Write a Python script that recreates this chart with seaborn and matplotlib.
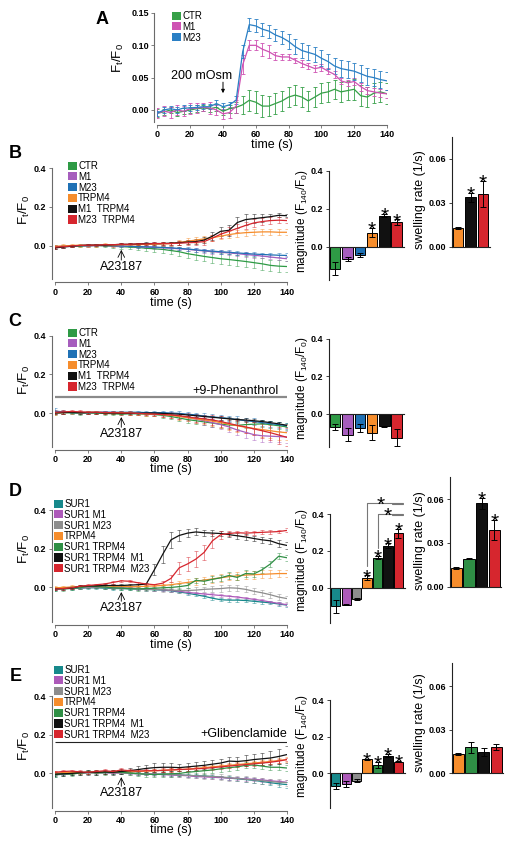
import numpy as np
import pandas as pd
import matplotlib
matplotlib.use("Agg")
import matplotlib.pyplot as plt
from matplotlib.patches import Patch
import seaborn as sns

W, H = 512, 846

# ---------------- data ----------------
# panel A: hypotonic swelling, sampled every 4 s
t_a = [0, 4, 8, 12, 16, 20, 24, 28, 32, 36, 40, 44, 48, 52, 56, 60, 64, 68, 72, 76,
       80, 84, 88, 92, 96, 100, 104, 108, 112, 116, 120, 124, 128, 132, 136, 140]
a_ctr = [-0.005, -0.003, 0.000, -0.004, -0.002, 0.000, 0.002, 0.003, 0.002, 0.004, -0.002, 0.002,
         0.004, 0.008, 0.015, 0.012, 0.006, 0.006, 0.010, 0.014, 0.020, 0.023, 0.020, 0.014,
         0.020, 0.026, 0.028, 0.032, 0.028, 0.030, 0.032, 0.022, 0.020, 0.026, 0.028, 0.025]
a_ctr_err = [0.006, 0.005, 0.005, 0.006, 0.005, 0.005, 0.005, 0.005, 0.005, 0.005, 0.006, 0.006,
             0.008, 0.014, 0.016, 0.017, 0.017, 0.016, 0.016, 0.016, 0.016, 0.016, 0.016, 0.016,
             0.016, 0.015, 0.015, 0.015, 0.015, 0.015, 0.016, 0.016, 0.016, 0.016, 0.016, 0.016]
a_m1 = [-0.005, -0.002, -0.004, 0.000, -0.002, 0.002, 0.003, 0.004, 0.003, 0.000, -0.006, -0.004,
        0.006, 0.070, 0.100, 0.100, 0.094, 0.090, 0.084, 0.082, 0.082, 0.077, 0.072, 0.068,
        0.064, 0.066, 0.060, 0.055, 0.045, 0.042, 0.044, 0.036, 0.030, 0.028, 0.026, 0.025]
a_m1_err = [0.008, 0.008, 0.008, 0.008, 0.008, 0.008, 0.008, 0.006, 0.010, 0.008, 0.008, 0.008,
            0.010, 0.015, 0.008, 0.008, 0.010, 0.010, 0.006, 0.004, 0.004, 0.004, 0.005, 0.005,
            0.005, 0.005, 0.005, 0.005, 0.005, 0.005, 0.005, 0.006, 0.006, 0.006, 0.006, 0.006]
a_m23 = [-0.005, 0.000, 0.002, 0.000, 0.003, 0.003, 0.004, 0.005, 0.005, 0.010, 0.005, 0.008,
         0.015, 0.090, 0.132, 0.130, 0.125, 0.122, 0.116, 0.112, 0.106, 0.098, 0.092, 0.089,
         0.086, 0.080, 0.075, 0.068, 0.064, 0.062, 0.060, 0.056, 0.052, 0.050, 0.047, 0.045]
a_m23_err = [0.004, 0.004, 0.004, 0.004, 0.004, 0.004, 0.004, 0.004, 0.004, 0.006, 0.005, 0.005,
             0.006, 0.010, 0.010, 0.010, 0.010, 0.010, 0.010, 0.010, 0.012, 0.012, 0.012, 0.012,
             0.012, 0.012, 0.012, 0.012, 0.013, 0.013, 0.013, 0.013, 0.013, 0.013, 0.013, 0.014]

# panels B-E: A23187 traces, sampled every 5 s
t_5 = [0, 5, 10, 15, 20, 25, 30, 35, 40, 45, 50, 55, 60, 65, 70, 75, 80, 85, 90, 95,
       100, 105, 110, 115, 120, 125, 130, 135, 140]

b_ctr = [-0.005, -0.004, 0.000, -0.002, 0.000, 0.002, 0.000, -0.002, -0.004, -0.006, -0.008, -0.012, -0.015, -0.018, -0.024,
         -0.030, -0.040, -0.047, -0.054, -0.060, -0.066, -0.070, -0.075, -0.080, -0.086, -0.092, -0.100, -0.104, -0.106]
b_ctr_err = [0.010, 0.008, 0.006, 0.006, 0.006, 0.006, 0.008, 0.008, 0.010, 0.010, 0.012, 0.014, 0.016, 0.018, 0.020,
             0.022, 0.024, 0.025, 0.026, 0.027, 0.028, 0.028, 0.029, 0.030, 0.030, 0.030, 0.030, 0.030, 0.030]
b_m1 = [-0.004, -0.002, 0.000, 0.002, 0.000, 0.002, 0.002, 0.000, -0.002, -0.002, -0.004, -0.006, -0.008, -0.010, -0.012,
        -0.015, -0.018, -0.022, -0.026, -0.030, -0.033, -0.036, -0.040, -0.044, -0.048, -0.052, -0.057, -0.062, -0.066]
b_m1_err = [0.008, 0.006, 0.006, 0.005, 0.005, 0.005, 0.005, 0.005, 0.006, 0.006, 0.006, 0.006, 0.007, 0.007, 0.008,
            0.008, 0.009, 0.009, 0.010, 0.010, 0.010, 0.011, 0.011, 0.012, 0.012, 0.012, 0.012, 0.013, 0.013]
b_m23 = [-0.006, -0.003, 0.000, 0.002, 0.002, 0.003, 0.002, 0.002, 0.000, -0.002, -0.004, -0.005, -0.006, -0.008, -0.010,
         -0.013, -0.016, -0.020, -0.024, -0.027, -0.030, -0.033, -0.036, -0.039, -0.042, -0.044, -0.046, -0.048, -0.049]
b_m23_err = [0.012, 0.008, 0.006, 0.005, 0.005, 0.005, 0.005, 0.005, 0.005, 0.006, 0.006, 0.006, 0.007, 0.007, 0.008,
             0.008, 0.008, 0.009, 0.009, 0.010, 0.010, 0.010, 0.010, 0.010, 0.010, 0.010, 0.010, 0.010, 0.010]
b_trpm4 = [-0.002, 0.000, 0.002, 0.004, 0.002, 0.003, 0.005, 0.004, 0.006, 0.005, 0.006, 0.008, 0.008, 0.010, 0.012,
           0.018, 0.024, 0.030, 0.036, 0.042, 0.050, 0.058, 0.064, 0.068, 0.070, 0.072, 0.072, 0.070, 0.070]
b_trpm4_err = [0.008, 0.008, 0.008, 0.008, 0.008, 0.008, 0.008, 0.008, 0.008, 0.008, 0.008, 0.008, 0.009, 0.010, 0.010,
               0.012, 0.014, 0.014, 0.015, 0.015, 0.016, 0.016, 0.016, 0.016, 0.016, 0.016, 0.016, 0.016, 0.016]
b_m1_trpm4 = [-0.010, -0.006, -0.002, 0.002, 0.004, 0.004, 0.004, 0.006, 0.008, 0.008, 0.010, 0.012, 0.012, 0.012, 0.014,
              0.016, 0.020, 0.022, 0.030, 0.050, 0.075, 0.080, 0.120, 0.135, 0.140, 0.145, 0.150, 0.157, 0.155]
b_m1_trpm4_err = [0.008, 0.006, 0.006, 0.005, 0.005, 0.005, 0.005, 0.005, 0.005, 0.006, 0.006, 0.006, 0.006, 0.007, 0.008,
                  0.010, 0.012, 0.014, 0.016, 0.020, 0.024, 0.028, 0.030, 0.030, 0.025, 0.020, 0.015, 0.010, 0.008]
b_m23_trpm4 = [-0.006, -0.004, 0.000, 0.002, 0.004, 0.004, 0.006, 0.006, 0.008, 0.008, 0.010, 0.010, 0.012, 0.012, 0.012,
               0.014, 0.016, 0.018, 0.022, 0.040, 0.060, 0.075, 0.090, 0.105, 0.118, 0.125, 0.130, 0.132, 0.130]
b_m23_trpm4_err = [0.008, 0.006, 0.006, 0.005, 0.005, 0.005, 0.005, 0.005, 0.005, 0.006, 0.006, 0.006, 0.006, 0.007, 0.008,
                   0.010, 0.012, 0.014, 0.015, 0.016, 0.018, 0.020, 0.020, 0.020, 0.020, 0.020, 0.018, 0.016, 0.015]

c_ctr = [0.000, 0.002, 0.000, -0.002, 0.000, 0.000, -0.002, -0.004, -0.006, -0.004, -0.004, -0.006, -0.008, -0.012, -0.018,
         -0.026, -0.034, -0.040, -0.046, -0.052, -0.058, -0.062, -0.064, -0.060, -0.058, -0.056, -0.060, -0.066, -0.072]
c_ctr_err = [0.010, 0.008, 0.006, 0.006, 0.006, 0.006, 0.006, 0.006, 0.006, 0.006, 0.008, 0.008, 0.010, 0.012, 0.014,
             0.016, 0.018, 0.018, 0.018, 0.018, 0.018, 0.018, 0.018, 0.018, 0.018, 0.018, 0.018, 0.018, 0.018]
c_m1 = [0.002, 0.004, 0.004, 0.002, 0.002, 0.004, 0.004, 0.002, 0.002, 0.000, 0.000, -0.002, -0.004, -0.006, -0.010,
        -0.016, -0.024, -0.032, -0.040, -0.050, -0.060, -0.072, -0.088, -0.100, -0.112, -0.118, -0.120, -0.122, -0.124]
c_m1_err = [0.008, 0.006, 0.006, 0.006, 0.006, 0.006, 0.006, 0.006, 0.006, 0.006, 0.006, 0.008, 0.008, 0.010, 0.012,
            0.014, 0.016, 0.018, 0.020, 0.022, 0.024, 0.026, 0.028, 0.030, 0.030, 0.030, 0.030, 0.030, 0.030]
c_m23 = [0.010, 0.006, 0.002, 0.002, 0.004, 0.004, 0.004, 0.004, 0.004, 0.004, 0.004, 0.002, 0.002, 0.002, 0.000,
         -0.002, -0.006, -0.010, -0.016, -0.020, -0.024, -0.028, -0.034, -0.040, -0.044, -0.050, -0.055, -0.060, -0.066]
c_m23_err = [0.014, 0.010, 0.008, 0.006, 0.006, 0.006, 0.006, 0.006, 0.006, 0.006, 0.006, 0.006, 0.008, 0.008, 0.010,
             0.010, 0.012, 0.012, 0.014, 0.014, 0.015, 0.015, 0.016, 0.016, 0.016, 0.016, 0.016, 0.016, 0.016]
c_trpm4 = [0.000, 0.002, 0.004, 0.002, 0.004, 0.004, 0.002, 0.002, 0.002, 0.000, -0.002, -0.004, -0.006, -0.008, -0.012,
           -0.018, -0.024, -0.030, -0.036, -0.042, -0.050, -0.058, -0.066, -0.074, -0.080, -0.086, -0.092, -0.098, -0.102]
c_trpm4_err = [0.010, 0.008, 0.008, 0.008, 0.008, 0.008, 0.008, 0.008, 0.008, 0.008, 0.008, 0.010, 0.010, 0.012, 0.014,
               0.016, 0.018, 0.020, 0.022, 0.024, 0.026, 0.028, 0.030, 0.032, 0.034, 0.036, 0.038, 0.040, 0.040]
c_m1_trpm4 = [0.000, 0.002, 0.004, 0.002, 0.002, 0.002, 0.000, 0.000, -0.002, -0.002, -0.002, 0.000, 0.000, -0.002, -0.004,
              -0.006, -0.010, -0.014, -0.018, -0.022, -0.026, -0.030, -0.034, -0.036, -0.040, -0.044, -0.050, -0.056, -0.064]
c_m1_trpm4_err = [0.006, 0.005, 0.005, 0.005, 0.005, 0.005, 0.005, 0.005, 0.005, 0.005, 0.005, 0.005, 0.006, 0.006, 0.006,
                  0.006, 0.007, 0.007, 0.007, 0.008, 0.008, 0.008, 0.008, 0.008, 0.008, 0.008, 0.008, 0.008, 0.008]
c_m23_trpm4 = [0.004, 0.006, 0.008, 0.006, 0.004, 0.004, 0.002, 0.002, 0.000, 0.000, -0.002, -0.004, -0.006, -0.008, -0.010,
               -0.014, -0.020, -0.026, -0.030, -0.036, -0.044, -0.054, -0.064, -0.072, -0.082, -0.092, -0.102, -0.114, -0.126]
c_m23_trpm4_err = [0.010, 0.010, 0.010, 0.008, 0.008, 0.008, 0.008, 0.008, 0.008, 0.008, 0.008, 0.008, 0.010, 0.012, 0.014,
                   0.016, 0.018, 0.020, 0.022, 0.024, 0.026, 0.028, 0.030, 0.032, 0.034, 0.036, 0.040, 0.044, 0.046]

d_sur1 = [-0.010, -0.008, -0.008, -0.006, -0.004, -0.004, -0.006, -0.008, -0.008, -0.010, -0.010, -0.012, -0.014, -0.016, -0.020,
          -0.026, -0.032, -0.040, -0.048, -0.058, -0.066, -0.068, -0.068, -0.070, -0.074, -0.078, -0.082, -0.088, -0.094]
d_sur1_err = [0.008, 0.006, 0.006, 0.006, 0.006, 0.006, 0.006, 0.006, 0.006, 0.006, 0.006, 0.006, 0.006, 0.006, 0.007,
              0.007, 0.008, 0.008, 0.008, 0.008, 0.008, 0.008, 0.008, 0.008, 0.008, 0.008, 0.008, 0.008, 0.008]
d_sur1_m1 = [-0.008, -0.006, -0.004, -0.004, -0.002, -0.002, -0.002, -0.004, -0.004, -0.006, -0.008, -0.010, -0.012, -0.014, -0.018,
             -0.022, -0.028, -0.032, -0.036, -0.040, -0.044, -0.048, -0.052, -0.058, -0.064, -0.070, -0.078, -0.085, -0.092]
d_sur1_m1_err = [0.006, 0.005, 0.005, 0.005, 0.005, 0.005, 0.005, 0.005, 0.005, 0.005, 0.005, 0.005, 0.006, 0.006, 0.006,
                 0.006, 0.006, 0.006, 0.006, 0.007, 0.007, 0.007, 0.007, 0.007, 0.007, 0.007, 0.007, 0.007, 0.007]
d_sur1_m23 = [-0.006, -0.004, -0.002, -0.002, 0.000, 0.000, -0.002, -0.004, -0.004, -0.006, -0.008, -0.010, -0.012, -0.014, -0.016,
              -0.018, -0.018, -0.016, -0.012, -0.010, -0.008, -0.004, -0.006, -0.012, -0.022, -0.030, -0.040, -0.052, -0.060]
d_sur1_m23_err = [0.008, 0.006, 0.006, 0.006, 0.006, 0.006, 0.006, 0.006, 0.006, 0.006, 0.006, 0.008, 0.008, 0.010, 0.010,
                  0.012, 0.012, 0.014, 0.014, 0.015, 0.016, 0.016, 0.016, 0.016, 0.016, 0.016, 0.016, 0.016, 0.016]
d_trpm4 = [-0.004, -0.002, 0.000, 0.002, 0.004, 0.004, 0.006, 0.004, 0.004, 0.002, 0.002, 0.004, 0.006, 0.008, 0.012,
           0.018, 0.024, 0.030, 0.036, 0.042, 0.048, 0.054, 0.058, 0.062, 0.064, 0.066, 0.068, 0.070, 0.070]
d_trpm4_err = [0.008, 0.008, 0.008, 0.008, 0.008, 0.008, 0.008, 0.008, 0.008, 0.008, 0.008, 0.008, 0.010, 0.010, 0.012,
               0.014, 0.016, 0.018, 0.018, 0.020, 0.020, 0.020, 0.020, 0.020, 0.020, 0.020, 0.020, 0.020, 0.020]
d_sur1_trpm4 = [-0.008, -0.010, -0.006, -0.004, 0.004, 0.002, 0.000, -0.004, -0.006, -0.008, -0.010, -0.008, -0.006, -0.004, -0.002,
                0.002, 0.008, 0.035, 0.030, 0.040, 0.048, 0.060, 0.050, 0.070, 0.068, 0.090, 0.120, 0.160, 0.152]
d_sur1_trpm4_err = [0.010, 0.010, 0.010, 0.008, 0.008, 0.008, 0.008, 0.008, 0.008, 0.008, 0.008, 0.008, 0.008, 0.010, 0.010,
                    0.012, 0.012, 0.014, 0.014, 0.016, 0.016, 0.016, 0.016, 0.016, 0.016, 0.016, 0.016, 0.016, 0.016]
d_sur1_trpm4_m1 = [-0.010, -0.008, -0.006, 0.004, 0.006, 0.006, 0.008, 0.008, 0.008, 0.010, 0.012, 0.015, 0.090, 0.170, 0.245,
                   0.268, 0.280, 0.286, 0.282, 0.280, 0.278, 0.272, 0.266, 0.260, 0.252, 0.245, 0.240, 0.225, 0.216]
d_sur1_trpm4_m1_err = [0.006, 0.006, 0.006, 0.006, 0.006, 0.006, 0.006, 0.006, 0.006, 0.006, 0.006, 0.008, 0.030, 0.045, 0.040,
                       0.030, 0.020, 0.018, 0.016, 0.015, 0.014, 0.014, 0.014, 0.014, 0.014, 0.015, 0.016, 0.018, 0.020]
d_sur1_trpm4_m23 = [-0.010, -0.008, -0.004, 0.004, 0.008, 0.012, 0.016, 0.024, 0.032, 0.030, 0.022, 0.016, 0.012, 0.020, 0.045,
                    0.100, 0.120, 0.145, 0.180, 0.240, 0.272, 0.278, 0.282, 0.280, 0.282, 0.284, 0.286, 0.288, 0.294]
d_sur1_trpm4_m23_err = [0.006, 0.006, 0.006, 0.006, 0.006, 0.006, 0.006, 0.006, 0.006, 0.006, 0.006, 0.006, 0.006, 0.010, 0.020,
                        0.030, 0.035, 0.040, 0.040, 0.035, 0.020, 0.012, 0.010, 0.010, 0.010, 0.010, 0.010, 0.010, 0.010]

e_sur1 = [-0.010, -0.006, -0.002, 0.000, 0.002, 0.004, 0.002, 0.002, 0.004, 0.000, -0.002, -0.004, -0.006, -0.006, -0.008,
          -0.010, -0.012, -0.014, -0.016, -0.018, -0.022, -0.026, -0.030, -0.034, -0.038, -0.044, -0.050, -0.056, -0.060]
e_sur1_err = [0.008, 0.006, 0.006, 0.006, 0.006, 0.006, 0.006, 0.006, 0.006, 0.006, 0.006, 0.006, 0.006, 0.006, 0.007,
              0.007, 0.008, 0.008, 0.008, 0.009, 0.009, 0.010, 0.010, 0.011, 0.012, 0.013, 0.014, 0.015, 0.016]
e_sur1_m1 = [-0.006, -0.004, -0.002, 0.000, 0.002, 0.002, 0.002, 0.000, 0.000, -0.002, -0.004, -0.004, -0.006, -0.008, -0.010,
             -0.012, -0.014, -0.018, -0.020, -0.022, -0.024, -0.026, -0.028, -0.030, -0.033, -0.036, -0.040, -0.044, -0.048]
e_sur1_m1_err = [0.006, 0.005, 0.005, 0.005, 0.005, 0.005, 0.005, 0.005, 0.005, 0.005, 0.005, 0.005, 0.006, 0.006, 0.006,
                 0.006, 0.006, 0.007, 0.007, 0.007, 0.008, 0.008, 0.008, 0.009, 0.009, 0.010, 0.010, 0.010, 0.010]
e_sur1_m23 = [-0.004, -0.004, -0.002, 0.000, 0.000, 0.002, 0.002, 0.002, 0.000, -0.002, -0.002, -0.004, -0.006, -0.006, -0.008,
              -0.010, -0.012, -0.014, -0.016, -0.018, -0.020, -0.024, -0.028, -0.032, -0.036, -0.040, -0.044, -0.048, -0.050]
e_sur1_m23_err = [0.008, 0.006, 0.006, 0.006, 0.006, 0.006, 0.006, 0.006, 0.006, 0.006, 0.006, 0.008, 0.008, 0.010, 0.010,
                  0.012, 0.012, 0.014, 0.014, 0.014, 0.015, 0.015, 0.015, 0.015, 0.015, 0.015, 0.015, 0.015, 0.015]
e_trpm4 = [0.000, 0.002, 0.004, 0.002, 0.004, 0.006, 0.004, 0.006, 0.008, 0.006, 0.008, 0.010, 0.012, 0.014, 0.016,
           0.018, 0.020, 0.024, 0.028, 0.032, 0.036, 0.040, 0.044, 0.048, 0.052, 0.056, 0.060, 0.065, 0.070]
e_trpm4_err = [0.008, 0.008, 0.008, 0.008, 0.008, 0.008, 0.008, 0.008, 0.008, 0.008, 0.008, 0.008, 0.008, 0.009, 0.009,
               0.010, 0.010, 0.010, 0.011, 0.011, 0.012, 0.012, 0.012, 0.012, 0.012, 0.012, 0.012, 0.012, 0.012]
e_sur1_trpm4 = [-0.008, -0.004, -0.006, 0.000, 0.004, 0.000, 0.002, 0.006, 0.004, 0.000, -0.004, -0.006, -0.008, -0.006, -0.004,
                -0.002, 0.004, 0.008, 0.012, 0.016, 0.022, 0.028, 0.032, 0.040, 0.042, 0.036, 0.030, 0.030, 0.026]
e_sur1_trpm4_err = [0.010, 0.010, 0.010, 0.010, 0.010, 0.010, 0.010, 0.010, 0.010, 0.010, 0.010, 0.012, 0.012, 0.014, 0.014,
                    0.014, 0.016, 0.016, 0.016, 0.016, 0.016, 0.016, 0.016, 0.016, 0.016, 0.016, 0.016, 0.016, 0.016]
e_sur1_trpm4_m1 = [-0.006, -0.004, -0.002, 0.002, 0.004, 0.004, 0.006, 0.004, 0.008, 0.012, 0.018, 0.024, 0.028, 0.030, 0.030,
                   0.028, 0.032, 0.036, 0.040, 0.046, 0.052, 0.062, 0.060, 0.064, 0.070, 0.074, 0.078, 0.086, 0.096]
e_sur1_trpm4_m1_err = [0.010, 0.010, 0.010, 0.010, 0.012, 0.012, 0.012, 0.012, 0.014, 0.014, 0.016, 0.020, 0.024, 0.024, 0.022,
                       0.020, 0.020, 0.020, 0.020, 0.020, 0.020, 0.022, 0.024, 0.028, 0.030, 0.032, 0.036, 0.040, 0.044]
e_sur1_trpm4_m23 = [0.004, 0.008, 0.010, 0.006, 0.004, 0.008, 0.012, 0.008, 0.016, 0.012, 0.010, 0.012, 0.012, 0.014, 0.016,
                    0.018, 0.020, 0.022, 0.024, 0.028, 0.032, 0.036, 0.040, 0.044, 0.048, 0.052, 0.056, 0.062, 0.070]
e_sur1_trpm4_m23_err = [0.008, 0.008, 0.008, 0.008, 0.008, 0.008, 0.008, 0.008, 0.010, 0.010, 0.010, 0.010, 0.010, 0.010, 0.010,
                        0.010, 0.010, 0.010, 0.010, 0.010, 0.010, 0.010, 0.010, 0.010, 0.010, 0.010, 0.010, 0.010, 0.010]

# bar summaries: magnitude (F140/F0) and swelling rate (1/s)
mag_b = [-0.115, -0.065, -0.045, 0.075, 0.165, 0.130]
mag_b_err = [0.035, 0.010, 0.010, 0.025, 0.010, 0.015]
rate_b = [0.013, 0.034, 0.036]
rate_b_err = [0.0005, 0.003, 0.009]
mag_c = [-0.071, -0.110, -0.074, -0.100, -0.065, -0.127]
mag_c_err = [0.017, 0.035, 0.020, 0.040, 0.003, 0.045]
mag_d = [-0.100, -0.090, -0.058, 0.056, 0.164, 0.229, 0.296]
mag_d_err = [0.036, 0.003, 0.006, 0.012, 0.008, 0.012, 0.025]
rate_d = [0.013, 0.0193, 0.057, 0.039]
rate_d_err = [0.0005, 0.0004, 0.004, 0.007]
mag_e = [-0.069, -0.060, -0.040, 0.076, 0.045, 0.096, 0.064]
mag_e_err = [0.015, 0.015, 0.010, 0.003, 0.015, 0.010, 0.003]
rate_e = [0.013, 0.0177, 0.0145, 0.0177]
rate_e_err = [0.0005, 0.004, 0.0025, 0.002]

conds_1 = ["CTR", "M1", "M23", "TRPM4", "M1  TRPM4", "M23  TRPM4"]
conds_2 = ["SUR1", "SUR1 M1", "SUR1 M23", "TRPM4", "SUR1 TRPM4", "SUR1 TRPM4  M1", "SUR1 TRPM4  M23"]

col_a = {"CTR": "#36a048", "M1": "#cf52b3", "M23": "#2a7fc4"}
col_1 = {"CTR": "#2e9a45", "M1": "#a65dbd", "M23": "#1f71b5", "TRPM4": "#f68d2c",
         "M1  TRPM4": "#111111", "M23  TRPM4": "#d6262e"}
col_2 = {"SUR1": "#17898b", "SUR1 M1": "#ad5ab9", "SUR1 M23": "#8d8d8d", "TRPM4": "#f68d2c",
         "SUR1 TRPM4": "#2f8f45", "SUR1 TRPM4  M1": "#111111", "SUR1 TRPM4  M23": "#d6262e"}

# ---------------- style ----------------
sns.set_theme(style="ticks")
plt.rcParams["font.family"] = ["Liberation Sans", "DejaVu Sans"]
plt.rcParams["mathtext.fontset"] = "custom"
plt.rcParams["mathtext.rm"] = "Liberation Sans"
plt.rcParams["mathtext.it"] = "Liberation Sans:italic"
plt.rcParams["text.color"] = "black"

fig = plt.figure(figsize=(W / 100, H / 100), dpi=100)
fig.patch.set_facecolor("white")


def px_axes(x0, y0, x1, y1):
    return fig.add_axes([x0 / W, 1 - y1 / H, (x1 - x0) / W, (y1 - y0) / H])


def ftext(x, y, s, **kw):
    fig.text(x / W, 1 - y / H, s, **kw)


def style_ticks(ax, xt, yt, yfmt, color):
    ax.set_xticks(xt, labels=[str(v) for v in xt], fontsize=6.5, fontweight="bold")
    ax.set_yticks(yt, labels=[yfmt.format(v) for v in yt], fontsize=6.5, fontweight="bold")
    ax.tick_params(length=2.5, width=0.6, pad=1.5, colors=color, labelcolor="black")


def trace_panel(box, t, series, colors, ylim, yticks, yfmt, err_alpha):
    ax = px_axes(*box)
    ax.set_facecolor("none")
    frames = [pd.DataFrame({"time": t, "ratio": m, "cond": k}) for k, (m, e) in series.items()]
    df = pd.concat(frames, ignore_index=True)
    for k, (m, e) in series.items():
        ax.errorbar(t, m, yerr=e, fmt="none", ecolor=colors[k], elinewidth=0.6,
                    capsize=1.6, capthick=0.6, alpha=err_alpha, zorder=1)
    sns.lineplot(data=df, x="time", y="ratio", hue="cond", hue_order=list(series),
                 palette=colors, linewidth=0.9, legend=False, ax=ax, zorder=2)
    ax.set_xlim(0, 140)
    ax.set_ylim(*ylim)
    ax.set_xlabel("")
    ax.set_ylabel("")
    for side in ["top", "right"]:
        ax.spines[side].set_visible(False)
    for side in ["left", "bottom"]:
        ax.spines[side].set_position(("outward", 2.2))
        ax.spines[side].set_color("#6b6b6b")
        ax.spines[side].set_linewidth(0.8)
    style_ticks(ax, list(range(0, 141, 20)), yticks, yfmt, "#6b6b6b")
    return ax


def add_legend(ax, x, y, labels, colors):
    handles = [Patch(facecolor=colors[l], edgecolor="none", label=l) for l in labels]
    ax.legend(handles=handles, loc="upper left", bbox_to_anchor=(x / W, 1 - y / H),
              bbox_transform=fig.transFigure, frameon=False, fontsize=7,
              handlelength=0.9, handleheight=0.9, handletextpad=0.15,
              labelspacing=0.08, borderpad=0, borderaxespad=0)


def star(ax, x, y):
    ax.annotate("*", (x, y), xytext=(0, -5.8), textcoords="offset points", color="black",
                ha="center", va="baseline", fontsize=15, annotation_clip=False)


def bar_panel(box, names, vals, errs, colors, xlim, ylim, yticks, yfmt, width, stars):
    ax = px_axes(*box)
    ax.set_facecolor("none")
    df = pd.DataFrame({"cond": names, "value": vals})
    sns.barplot(data=df, x="cond", y="value", hue="cond", order=names, hue_order=names,
                palette=colors, saturation=1, width=width, errorbar=None, legend=False,
                edgecolor="black", linewidth=0.7, ax=ax)
    ax.errorbar(range(len(names)), vals, yerr=errs, fmt="none", ecolor="black",
                elinewidth=0.7, capsize=2, capthick=0.7, zorder=3)
    ax.set_xlim(*xlim)
    ax.set_ylim(*ylim)
    ax.set_xlabel("")
    ax.set_ylabel("")
    for side in ["top", "right"]:
        ax.spines[side].set_visible(False)
    ax.spines["bottom"].set_position(("data", 0))
    for side in ["left", "bottom"]:
        ax.spines[side].set_linewidth(0.8)
        ax.spines[side].set_color("#222222")
    ax.set_xticks([])
    ax.set_yticks(yticks, labels=[yfmt.format(v) for v in yticks], fontsize=6.5, fontweight="bold")
    ax.tick_params(axis="y", length=2.5, width=0.6, pad=1.5, colors="#222222", labelcolor="black")
    for i in stars:
        star(ax, i, vals[i] + errs[i])
    return ax


def a23187(ax, tip, text_y):
    ax.annotate("", xy=(40, tip), xytext=(40, text_y + 0.035),
                arrowprops=dict(arrowstyle="->", lw=0.6, color="black", shrinkA=0, shrinkB=0))
    ax.text(40, text_y, "A23187", ha="center", va="center", fontsize=9)


# ---------------- panel A ----------------
ax_a = trace_panel((157.4, 13, 387, 121.6), t_a,
                   {"CTR": (a_ctr, a_ctr_err), "M1": (a_m1, a_m1_err), "M23": (a_m23, a_m23_err)},
                   col_a, (-0.018, 0.15), [0.0, 0.05, 0.10, 0.15], "{:.2f}", 1.0)
ax_a.annotate("", xy=(40, 0.026), xytext=(40, 0.043),
              arrowprops=dict(arrowstyle="-|>", lw=0.7, color="black", mutation_scale=5, shrinkA=0, shrinkB=0))
ax_a.text(27, 0.0525, "200 mOsm", ha="center", va="center", fontsize=9)
add_legend(ax_a, 172, 11, ["CTR", "M1", "M23"], col_a)

# ---------------- panel B ----------------
ax_b = trace_panel((55, 168, 287, 279), t_5,
                   {"CTR": (b_ctr, b_ctr_err), "M1": (b_m1, b_m1_err), "M23": (b_m23, b_m23_err),
                    "TRPM4": (b_trpm4, b_trpm4_err), "M1  TRPM4": (b_m1_trpm4, b_m1_trpm4_err),
                    "M23  TRPM4": (b_m23_trpm4, b_m23_trpm4_err)},
                   col_1, (-0.17, 0.4), [0.0, 0.2, 0.4], "{:.1f}", 0.55)
a23187(ax_b, -0.02, -0.108)
add_legend(ax_b, 68, 161, conds_1, col_1)
bar_panel((329, 171, 404, 280), conds_1, mag_b, mag_b_err, col_1, (-0.51, 5.6),
          (-0.175, 0.4), [0.0, 0.2, 0.4], "{:.1f}", 0.85, [3, 4, 5])
bar_panel((452, 137, 490.4, 247), ["TRPM4", "M1  TRPM4", "M23  TRPM4"], rate_b, rate_b_err, col_1,
          (-0.5, 2.6), (0, 0.075), [0.0, 0.03, 0.06], "{:.2f}", 0.83, [1, 2])

# ---------------- panel C ----------------
ax_c = trace_panel((55, 335.8, 287, 446.8), t_5,
                   {"CTR": (c_ctr, c_ctr_err), "M1": (c_m1, c_m1_err), "M23": (c_m23, c_m23_err),
                    "TRPM4": (c_trpm4, c_trpm4_err), "M1  TRPM4": (c_m1_trpm4, c_m1_trpm4_err),
                    "M23  TRPM4": (c_m23_trpm4, c_m23_trpm4_err)},
                   col_1, (-0.175, 0.4), [0.0, 0.2, 0.4], "{:.1f}", 0.55)
a23187(ax_c, -0.021, -0.109)
ax_c.hlines(0.083, 0, 140, color="#8a8a8a", lw=1.6)
ax_c.text(135, 0.114, "+9-Phenanthrol", ha="right", va="center", fontsize=9)
add_legend(ax_c, 68, 328, conds_1, col_1)
bar_panel((329, 339, 404, 446.8), conds_1, mag_c, mag_c_err, col_1, (-0.51, 5.6),
          (-0.175, 0.4), [0.0, 0.2, 0.4], "{:.1f}", 0.85, [])

# ---------------- panel D ----------------
ax_d = trace_panel((55, 510, 287, 621.7), t_5,
                   {"SUR1": (d_sur1, d_sur1_err), "SUR1 M1": (d_sur1_m1, d_sur1_m1_err),
                    "SUR1 M23": (d_sur1_m23, d_sur1_m23_err), "TRPM4": (d_trpm4, d_trpm4_err),
                    "SUR1 TRPM4": (d_sur1_trpm4, d_sur1_trpm4_err),
                    "SUR1 TRPM4  M1": (d_sur1_trpm4_m1, d_sur1_trpm4_m1_err),
                    "SUR1 TRPM4  M23": (d_sur1_trpm4_m23, d_sur1_trpm4_m23_err)},
                   col_2, (-0.18, 0.4), [0.0, 0.2, 0.4], "{:.1f}", 0.55)
a23187(ax_d, -0.026, -0.109)
add_legend(ax_d, 54, 499, conds_2, col_2)
ax_dm = bar_panel((330, 514, 404.6, 623), conds_2, mag_d, mag_d_err, col_2, (-0.54, 6.59),
                  (-0.19, 0.4), [0.0, 0.2, 0.4], "{:.1f}", 0.88, [3, 4, 5, 6])
# significance brackets
ax_dm.plot([3, 3, 6.4], [0.119, 0.459, 0.459], color="#777777", lw=0.8, clip_on=False)
ax_dm.plot([5.4, 6.4], [0.452, 0.452], color="#777777", lw=0.8, clip_on=False)
ax_dm.plot([4, 4, 6.4], [0.216, 0.400, 0.400], color="#777777", lw=0.8, clip_on=False)
ax_dm.plot([5.4, 6.4], [0.393, 0.393], color="#777777", lw=0.8, clip_on=False)
star(ax_dm, 4.3, 0.459)
star(ax_dm, 4.95, 0.400)
bar_panel((450, 477, 501.3, 587), ["TRPM4", "SUR1 TRPM4", "SUR1 TRPM4  M1", "SUR1 TRPM4  M23"],
          rate_d, rate_d_err, col_2, (-0.5, 3.55), (0, 0.075), [0.0, 0.03, 0.06], "{:.2f}", 0.87, [2, 3])

# ---------------- panel E ----------------
ax_e = trace_panel((55, 696, 287, 807.7), t_5,
                   {"SUR1": (e_sur1, e_sur1_err), "SUR1 M1": (e_sur1_m1, e_sur1_m1_err),
                    "SUR1 M23": (e_sur1_m23, e_sur1_m23_err), "TRPM4": (e_trpm4, e_trpm4_err),
                    "SUR1 TRPM4": (e_sur1_trpm4, e_sur1_trpm4_err),
                    "SUR1 TRPM4  M1": (e_sur1_trpm4_m1, e_sur1_trpm4_m1_err),
                    "SUR1 TRPM4  M23": (e_sur1_trpm4_m23, e_sur1_trpm4_m23_err)},
                   col_2, (-0.18, 0.4), [0.0, 0.2, 0.4], "{:.1f}", 0.55)
a23187(ax_e, -0.021, -0.104)
ax_e.hlines(0.161, 0, 140, color="#222222", lw=0.8)
ax_e.text(140, 0.203, "+Glibenclamide", ha="right", va="center", fontsize=9)
add_legend(ax_e, 54, 665, conds_2, col_2)
bar_panel((330, 700, 404.6, 808), conds_2, mag_e, mag_e_err, col_2, (-0.54, 6.59),
          (-0.19, 0.4), [0.0, 0.2, 0.4], "{:.1f}", 0.88, [3, 4, 5, 6])
bar_panel((452, 663, 503.3, 773), ["TRPM4", "SUR1 TRPM4", "SUR1 TRPM4  M1", "SUR1 TRPM4  M23"],
          rate_e, rate_e_err, col_2, (-0.5, 3.55), (0, 0.076), [0.0, 0.03, 0.06], "{:.2f}", 0.87, [])

# ---------------- labels ----------------
ft = r"$\mathregular{F_t/F_0}$"
mag = r"magnitude ($\mathregular{F_{140}/F_0}$)"
rate = "swelling rate (1/s)"
for x, y in [(118, 58), (24, 210), (24, 380), (24, 549), (24, 746)]:
    ftext(x, y, ft, rotation=90, ha="center", va="center", fontsize=9.5)
for y in [221, 388, 560, 746]:
    ftext(302, y, mag, rotation=90, ha="center", va="center", fontsize=8.5)
for y in [200, 541, 723]:
    ftext(420, y, rate, rotation=90, ha="center", va="center", fontsize=9)
for x, y in [(272, 145), (171, 303), (171, 469), (171, 645), (171, 830)]:
    ftext(x, y, "time (s)", ha="center", va="center", fontsize=9)
for x, y, s in [(102, 20, "A"), (15, 153, "B"), (15, 321, "C"), (15, 492, "D"), (16, 676, "E")]:
    ftext(x, y, s, ha="center", va="center", fontsize=13, fontweight="bold")

fig.savefig("out.png", dpi=100)
